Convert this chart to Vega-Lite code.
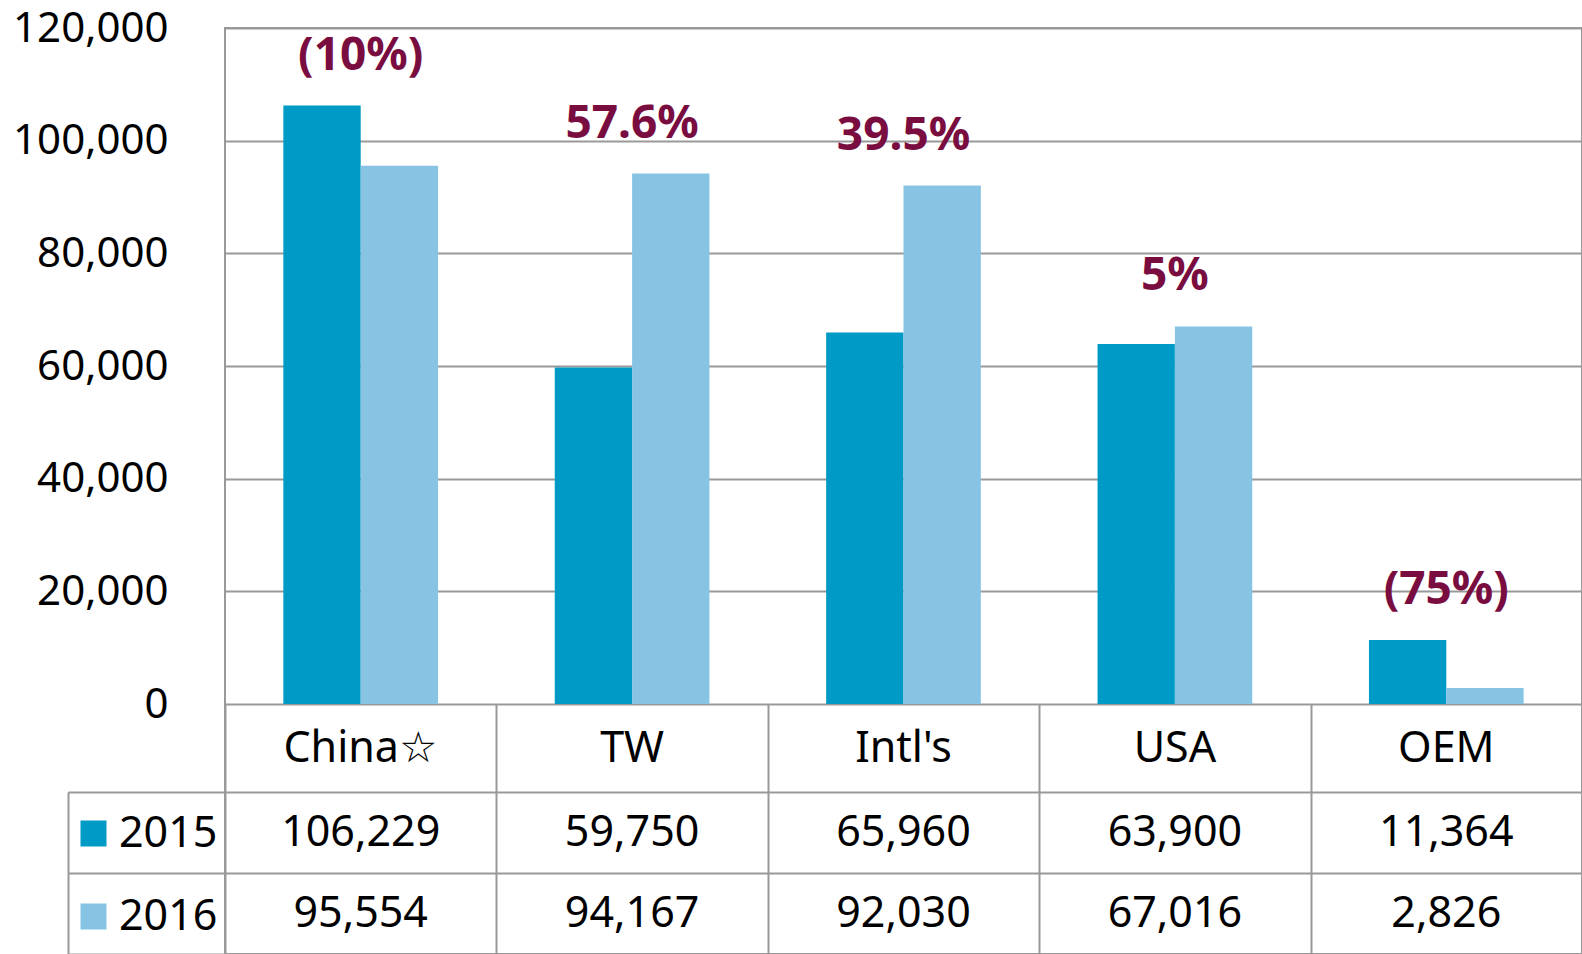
{
  "$schema": "https://vega.github.io/schema/vega-lite/v6.json",
  "autosize": {"type": "none"},
  "padding": {"left": 225, "top": 28, "right": 0, "bottom": 0},
  "width": 1357,
  "height": 926,
  "background": "white",
  "config": {
    "font": "Noto Sans",
    "view": {"stroke": "#999999", "strokeWidth": 2},
    "axis": {"labelColor": "#000000", "labelFont": "Noto Sans"}
  },
  "data": {
    "values": [
      {"cat": "China☆", "year": "2015", "value": 106229, "change": "(10%)"},
      {"cat": "China☆", "year": "2016", "value": 95554, "change": "(10%)"},
      {"cat": "TW", "year": "2015", "value": 59750, "change": "57.6%"},
      {"cat": "TW", "year": "2016", "value": 94167, "change": "57.6%"},
      {"cat": "Intl's", "year": "2015", "value": 65960, "change": "39.5%"},
      {"cat": "Intl's", "year": "2016", "value": 92030, "change": "39.5%"},
      {"cat": "USA", "year": "2015", "value": 63900, "change": "5%"},
      {"cat": "USA", "year": "2016", "value": 67016, "change": "5%"},
      {"cat": "OEM", "year": "2015", "value": 11364, "change": "(75%)"},
      {"cat": "OEM", "year": "2016", "value": 2826, "change": "(75%)"}
    ]
  },
  "layer": [
    {
      "mark": {"type": "bar", "strokeWidth": 0},
      "encoding": {
        "x": {
          "field": "cat", "type": "nominal",
          "scale": {"domain": ["China☆", "TW", "Intl's", "USA", "OEM"], "paddingInner": 0.43, "paddingOuter": 0.215},
          "axis": {"orient": "bottom", "offset": -250, "ticks": false, "tickSize": 0, "domain": false, "grid": false, "title": null,
                   "labelAngle": 0, "labelFontSize": 43, "labelPadding": 44, "labelBaseline": "middle", "labelLimit": 400, "labelColor": "#000000"}
        },
        "xOffset": {"field": "year", "type": "nominal", "scale": {"domain": ["2015", "2016"]}},
        "y": {
          "field": "value", "type": "quantitative",
          "scale": {"domain": [0, 120000], "range": [676, 0], "nice": false},
          "axis": {"orient": "left", "values": [0, 20000, 40000, 60000, 80000, 100000, 120000], "format": ",.0f",
                   "grid": true, "gridColor": "#999999", "gridWidth": 2, "ticks": false, "tickSize": 0, "domain": false,
                   "labelFontSize": 42, "labelPadding": 57, "labelColor": "#000000", "title": null}
        },
        "color": {
          "field": "year", "type": "nominal",
          "scale": {"domain": ["2015", "2016"], "range": ["#009AC6", "#87C4E4"]},
          "legend": {"orient": "none", "legendX": -153, "legendY": 784, "title": null, "symbolType": "square",
                     "symbolSize": 676, "symbolStrokeWidth": 0, "labelFontSize": 43, "labelOffset": 4,
                     "rowPadding": 39, "padding": 0, "labelColor": "#000000", "labelFont": "Noto Sans"}
        }
      }
    },
    {
      "transform": [{"aggregate": [{"op": "max", "field": "value", "as": "top"}], "groupby": ["cat", "change"]}],
      "mark": {"type": "text", "fontWeight": "bold", "fontSize": 46, "color": "#7A0D3F", "dy": -50, "baseline": "middle"},
      "encoding": {
        "x": {"field": "cat", "type": "nominal",
              "scale": {"domain": ["China☆", "TW", "Intl's", "USA", "OEM"], "paddingInner": 0.43, "paddingOuter": 0.215},
              "axis": null},
        "y": {"field": "top", "type": "quantitative",
              "scale": {"domain": [0, 120000], "range": [676, 0], "nice": false}, "axis": null},
        "text": {"field": "change"}
      }
    },
    {
      "mark": {"type": "text", "fontSize": 43, "color": "#000000", "baseline": "middle"},
      "encoding": {
        "x": {"field": "cat", "type": "nominal",
              "scale": {"domain": ["China☆", "TW", "Intl's", "USA", "OEM"], "paddingInner": 0, "paddingOuter": 0},
              "axis": {"orient": "bottom", "offset": -250, "tickBand": "extent", "ticks": true, "tickSize": 250,
                       "tickColor": "#999999", "tickWidth": 2, "labels": false, "domain": false, "grid": false, "title": null}},
        "y": {"field": "year", "type": "nominal",
              "scale": {"domain": ["2015", "2016"], "range": [764, 926], "paddingInner": 0, "paddingOuter": 0},
              "axis": {"orient": "left", "tickBand": "extent", "ticks": true, "tickSize": 157, "tickColor": "#999999", "tickWidth": 2,
                       "grid": true, "gridColor": "#999999", "gridWidth": 2, "labels": false, "domain": false, "title": null}},
        "text": {"field": "value", "type": "quantitative", "format": ","}
      }
    },
    {
      "mark": {"type": "text", "opacity": 0},
      "encoding": {
        "y": {"field": "year", "type": "nominal",
              "scale": {"domain": ["2015", "2016"], "range": [764, 926], "paddingInner": 0, "paddingOuter": 0},
              "axis": {"orient": "left", "offset": 157, "domain": true, "domainColor": "#999999", "domainWidth": 2,
                       "ticks": false, "labels": false, "grid": false, "title": null}},
        "text": {"value": ""}
      }
    }
  ],
  "resolve": {
    "scale": {"x": "independent", "y": "independent"},
    "axis": {"x": "independent", "y": "independent"}
  }
}
